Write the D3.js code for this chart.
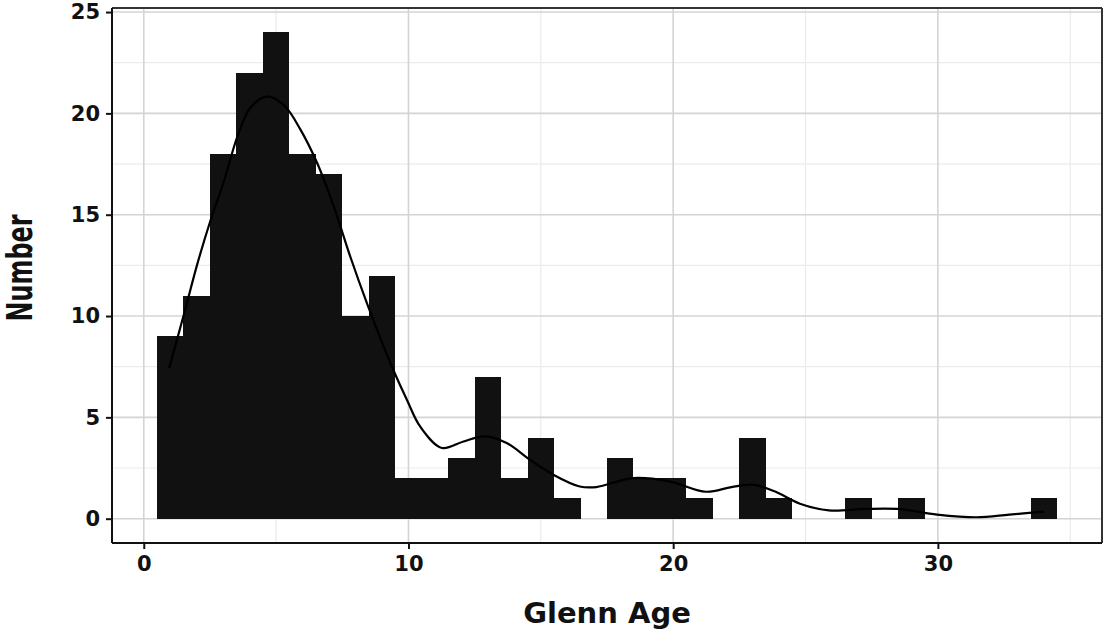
<!DOCTYPE html>
<html>
<head>
<meta charset="utf-8">
<script src="https://cdn.jsdelivr.net/npm/d3@7"></script>
<style>
  html, body { margin: 0; padding: 0; background: #fff; }
  svg { display: block; }
</style>
</head>
<body>
<svg id="chart" width="1105" height="634"></svg>
<script>
// ---- data ----
const binCenters = [1,2,3,4,5,6,7,8,9,10,11,12,13,14,15,16,17,18,19,20,21,22,23,24,25,26,27,28,29,30,31,32,33,34];
const binCounts  = [9,11,18,22,24,18,17,10,12,2,2,3,7,2,4,1,0,3,2,2,1,0,4,1,0,0,1,0,1,0,0,0,0,1];
const curveX = [0.96,1.53,2.03,2.53,3.04,3.54,4.04,4.67,5.30,5.92,6.55,7.18,7.81,8.44,9.06,9.44,9.94,10.44,11.26,12.08,12.89,13.71,14.59,15.47,16.47,17.1,18.48,19.86,21.24,22.2,23.0,23.83,24.79,25.88,27.24,28.47,29.97,31.47,32.7,34.0];
const curveY = [7.43,10.15,12.6,14.75,16.7,18.86,20.3,20.83,20.4,19.2,17.55,15.4,12.9,10.6,8.5,7.3,5.87,4.55,3.49,3.81,4.06,3.73,2.91,2.17,1.59,1.56,2.0,1.84,1.33,1.56,1.68,1.35,0.74,0.41,0.48,0.48,0.2,0.07,0.2,0.35];
const xTicks = [0,10,20,30];
const xMinor = [5,15,25,35];
const yTicks = [0,5,10,15,20,25];
const yMinor = [2.5,7.5,12.5,17.5,22.5];
const binWidth = 1;
const xTitle = "Glenn Age";
const yTitle = "Number";

// ---- layout ----
const panel = {left: 112, right: 1102, top: 8, bottom: 543};
const svg = d3.select("#chart");
const x = d3.scaleLinear().domain([-1.2, 36.2]).range([panel.left, panel.right]);
const y = d3.scaleLinear().domain([-1.2, 25.2]).range([panel.bottom, panel.top]);

svg.append("rect").attr("x",0).attr("y",0).attr("width",1105).attr("height",634).attr("fill","#fff");

const grid = svg.append("g");
// minor grid
grid.selectAll(".vmin").data(xMinor).join("line")
  .attr("x1", d=>x(d)).attr("x2", d=>x(d)).attr("y1", panel.top).attr("y2", panel.bottom)
  .attr("stroke", "#ebebeb").attr("stroke-width", 1.2);
grid.selectAll(".hmin").data(yMinor).join("line")
  .attr("y1", d=>y(d)).attr("y2", d=>y(d)).attr("x1", panel.left).attr("x2", panel.right)
  .attr("stroke", "#ebebeb").attr("stroke-width", 1.2);
// major grid
grid.selectAll(".vmaj").data(xTicks).join("line")
  .attr("x1", d=>x(d)).attr("x2", d=>x(d)).attr("y1", panel.top).attr("y2", panel.bottom)
  .attr("stroke", "#d4d4d4").attr("stroke-width", 1.6);
grid.selectAll(".hmaj").data(yTicks).join("line")
  .attr("y1", d=>y(d)).attr("y2", d=>y(d)).attr("x1", panel.left).attr("x2", panel.right)
  .attr("stroke", "#d4d4d4").attr("stroke-width", 1.6);

// bars
svg.append("g").attr("shape-rendering","crispEdges")
  .selectAll("rect").data(binCenters.map((c,i)=>({c, n: binCounts[i]})).filter(d=>d.n>0))
  .join("rect")
  .attr("x", d=>x(d.c - binWidth/2))
  .attr("width", d=>x(d.c + binWidth/2) - x(d.c - binWidth/2))
  .attr("y", d=>y(d.n))
  .attr("height", d=>y(0) - y(d.n))
  .attr("fill", "#111111");

// density curve
const pts = curveX.map((v,i)=>[v, curveY[i]]);
svg.append("path").datum(pts)
  .attr("d", d3.line().x(d=>x(d[0])).y(d=>y(d[1])).curve(d3.curveCatmullRom.alpha(0.5)))
  .attr("fill","none").attr("stroke","#000").attr("stroke-width", 2.2);

// panel border (top/right) and axis lines (left/bottom)
svg.append("line").attr("x1", panel.left).attr("x2", panel.right).attr("y1", panel.top).attr("y2", panel.top)
  .attr("stroke","#333").attr("stroke-width",2);
svg.append("line").attr("x1", panel.right).attr("x2", panel.right).attr("y1", panel.top).attr("y2", panel.bottom)
  .attr("stroke","#333").attr("stroke-width",2);

const font = "'DejaVu Sans', Verdana, sans-serif";

// x axis
const xAxis = svg.append("g").attr("transform", `translate(0,${panel.bottom})`)
  .call(d3.axisBottom(x).tickValues(xTicks).tickSize(6).tickPadding(7).tickSizeOuter(0));
xAxis.select(".domain").attr("d", `M${panel.left},0H${panel.right}`).attr("stroke","#111").attr("stroke-width",2);
xAxis.selectAll(".tick line").attr("stroke","#111").attr("stroke-width",2);
xAxis.selectAll(".tick text").attr("font-family", font).attr("font-weight","bold")
  .attr("font-size", 21).attr("fill","#111");

// y axis
const yAxis = svg.append("g").attr("transform", `translate(${panel.left},0)`)
  .call(d3.axisLeft(y).tickValues(yTicks).tickSize(6).tickPadding(6).tickSizeOuter(0));
yAxis.select(".domain").attr("d", `M0,${panel.top}V${panel.bottom}`).attr("stroke","#111").attr("stroke-width",2);
yAxis.selectAll(".tick line").attr("stroke","#111").attr("stroke-width",2);
yAxis.selectAll(".tick text").attr("font-family", font).attr("font-weight","bold")
  .attr("font-size", 21).attr("fill","#111");

// axis titles
svg.append("text").attr("x", (panel.left+panel.right)/2).attr("y", 623)
  .attr("text-anchor","middle").attr("font-family", font).attr("font-weight","bold")
  .attr("font-size", 29).attr("fill","#111").text(xTitle);

svg.append("text").attr("transform", "translate(32,268) rotate(-90)")
  .attr("text-anchor","middle").attr("font-family", "'Liberation Sans Narrow', 'DejaVu Sans Condensed', sans-serif")
  .attr("font-weight","bold").attr("font-size", 36).attr("fill","#111")
  .attr("textLength", 107).attr("lengthAdjust","spacingAndGlyphs")
  .text(yTitle);
</script>
</body>
</html>
